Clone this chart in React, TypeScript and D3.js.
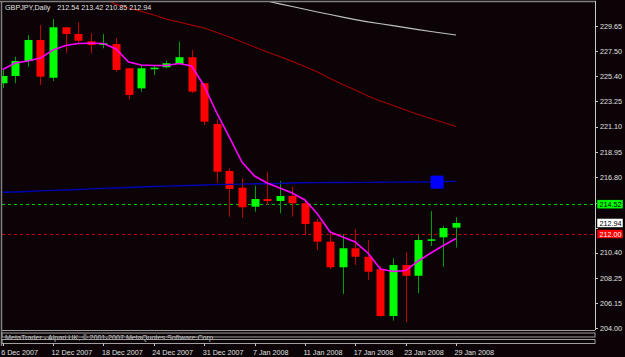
import React from "react";
import * as d3 from "d3";

const dates = [
  "2007-12-06","2007-12-07","2007-12-10","2007-12-11","2007-12-12","2007-12-13","2007-12-14",
  "2007-12-17","2007-12-18","2007-12-19","2007-12-20","2007-12-21","2007-12-24","2007-12-26",
  "2007-12-27","2007-12-28","2007-12-31","2008-01-02","2008-01-03","2008-01-04","2008-01-07",
  "2008-01-08","2008-01-09","2008-01-10","2008-01-11","2008-01-14","2008-01-15","2008-01-16",
  "2008-01-17","2008-01-18","2008-01-21","2008-01-22","2008-01-23","2008-01-24","2008-01-25",
  "2008-01-28","2008-01-29"
];
const opens = [224.79,225.41,226.68,228.46,225.26,229.54,228.97,228.35,228.04,228.12,226.06,224.36,226.00,226.15,226.43,227.00,224.79,221.33,217.35,215.93,214.32,214.97,214.80,215.23,214.61,213.04,211.35,209.18,210.79,210.07,209.01,205.04,209.37,208.46,211.43,211.72,212.54];
const highs = [225.92,227.05,228.89,229.73,230.24,229.54,229.96,229.03,228.97,228.61,226.06,226.34,226.34,226.71,228.32,227.61,224.79,221.73,217.58,216.73,216.10,217.29,216.50,216.01,214.89,213.27,212.06,211.98,212.40,211.49,209.29,209.94,210.45,211.92,213.95,212.68,213.42];
const lows = [224.39,224.79,226.20,224.64,224.98,227.33,228.18,227.33,227.76,225.77,223.43,224.08,225.49,226.06,226.43,223.95,221.25,216.35,213.47,213.38,213.89,214.46,213.76,213.47,211.92,210.64,209.01,206.91,209.37,208.10,204.98,204.65,204.51,206.97,210.98,209.23,210.85];
const closes = [225.41,226.68,228.46,225.35,229.54,228.97,228.40,228.04,228.18,225.92,223.80,226.06,226.11,226.49,227.00,224.08,221.53,217.29,215.82,214.27,214.97,214.80,215.23,214.61,212.85,211.35,209.18,210.79,210.07,208.80,205.04,209.37,208.46,211.49,211.55,212.51,212.94];

// magenta fast MA
const maFast = [225.96,226.51,226.68,226.93,227.61,227.99,228.17,228.18,228.17,227.70,226.60,226.34,226.30,226.30,226.47,226.26,224.56,222.27,220.23,218.11,216.92,216.33,215.90,215.48,214.89,213.70,212.17,211.75,211.32,210.39,209.03,208.82,208.90,209.71,210.39,211.03,211.62];
// dark red MA
const maRed: (number | null)[] = [null,null,null,null,null,null,null,232.37,232.03,231.48,231.18,230.89,230.58,230.24,229.99,229.73,229.48,229.10,228.72,228.29,227.87,227.44,227.06,226.65,226.21,225.75,225.19,224.68,224.22,223.71,223.29,222.90,222.52,222.14,221.80,221.46,221.12];
// silver long MA
const maSilver: (number | null)[] = [null,null,null,null,null,null,null,null,null,null,null,null,null,null,null,null,null,null,null,null,232.03,231.77,231.53,231.30,231.07,230.84,230.62,230.40,230.19,230.00,229.84,229.68,229.51,229.34,229.18,229.03,228.89];
// blue MA
const maBlue = [215.54,215.57,215.61,215.66,215.70,215.74,215.78,215.83,215.87,215.91,215.95,215.99,216.03,216.06,216.09,216.12,216.16,216.19,216.21,216.23,216.26,216.27,216.29,216.33,216.35,216.36,216.37,216.37,216.38,216.38,216.39,216.40,216.41,216.41,216.42,216.45,216.47];

const priceTicks = [229.65,227.50,225.40,223.25,221.10,218.95,216.80,214.65,212.55,210.40,208.25,206.15,204.00];
const hiddenTickLabels = [214.65, 212.55];
const tickEvery = 4;
const askLevel = 214.52;
const bidLevel = 212.00;
const lastPrice = 212.94;
const markerBar = 34.5;
const markerPrice = 216.4;
const title = "GBPJPY,Daily";
const titleValues = "212.54 213.42 210.85 212.94";
const copyright = "MetaTrader - Alpari UK, \u00a9 2001-2007 MetaQuotes Software Corp.";

const W = 625, H = 357;
const L = 2, R = 595, T = 2, B = 330;
const FONT = "'Liberation Sans', Arial, sans-serif";
const BG = "#0b0306";

export default function App() {
  const parse = d3.timeParse("%Y-%m-%d");
  const fmt = d3.timeFormat("%-d %b %Y");
  const x = d3.scaleLinear().domain([0, dates.length - 1]).range([2.7, 456]);
  const y = d3.scaleLinear().domain([204, 229.65]).range([328.3, 26]);

  const lineGen = d3.line<number | null>()
    .defined((d) => d !== null)
    .x((_, i) => x(i))
    .y((d) => y(d as number));

  const ticksX = dates.map((d, i) => ({ i, d })).filter((o) => o.i % tickEvery === 0);
  const bodyW = 8;

  return (
    <svg width={W} height={H} style={{ position: "fixed", left: 0, top: 0 }}>
      <rect x={0} y={0} width={W} height={H} fill={BG} />
      <defs>
        <clipPath id="plot">
          <rect x={L} y={T} width={R - L} height={B - T} />
        </clipPath>
      </defs>
      <g clipPath="url(#plot)">
        <line x1={L} x2={R} y1={Math.round(y(askLevel)) + 0.5} y2={Math.round(y(askLevel)) + 0.5} stroke="#00c800" strokeDasharray="3,3" />
        <line x1={L} x2={R} y1={Math.round(y(bidLevel)) + 0.5} y2={Math.round(y(bidLevel)) + 0.5} stroke="#c80000" strokeDasharray="3,3" />
        {dates.map((_, i) => {
          const up = closes[i] >= opens[i];
          const cx = Math.round(x(i)) + 0.5;
          const top = y(Math.max(opens[i], closes[i]));
          const bot = y(Math.min(opens[i], closes[i]));
          return (
            <g key={i}>
              <line x1={cx} x2={cx} y1={y(highs[i])} y2={y(lows[i])} stroke={up ? "#00a000" : "#c00000"} strokeWidth={1} />
              <rect x={cx - bodyW / 2} y={top} width={bodyW} height={Math.max(1.5, bot - top)} fill={up ? "#00ff00" : "#ff0000"} />
            </g>
          );
        })}
        <path d={lineGen(maBlue) || ""} fill="none" stroke="#0000b4" strokeWidth={1.4} />
        <path d={lineGen(maRed) || ""} fill="none" stroke="#a00000" strokeWidth={1.2} />
        <path d={lineGen(maSilver) || ""} fill="none" stroke="#c0c0c0" strokeWidth={1.1} />
        <path d={lineGen(maFast) || ""} fill="none" stroke="#ff00ff" strokeWidth={1.6} />
        <rect x={x(markerBar) - 6.5} y={y(markerPrice) - 6.5} width={13} height={13} fill="#0000ff" />
      </g>

      {/* frame */}
      <line x1={0} x2={R + 1} y1={1.5} y2={1.5} stroke="#808080" strokeWidth={1.5} />
      <line x1={1.5} x2={1.5} y1={1} y2={346} stroke="#808080" strokeWidth={1.5} />
      <line x1={R + 0.5} x2={R + 0.5} y1={1} y2={B} stroke="#c8c8c8" />

      {/* title */}
      <text x={5} y={10} fill="#e0e0e0" fontFamily={FONT} fontSize={7.2}>{title}</text>
      <text x={57.3} y={10} fill="#e0e0e0" fontFamily={FONT} fontSize={7.2}>{titleValues}</text>

      {/* price axis */}
      {priceTicks.map((p) => (
        <g key={p}>
          <line x1={R} x2={R + 3} y1={Math.round(y(p)) + 0.5} y2={Math.round(y(p)) + 0.5} stroke="#c8c8c8" />
          {hiddenTickLabels.includes(p) ? null : (
            <text x={600} y={y(p) + 2.6} fill="#e0e0e0" fontFamily={FONT} fontSize={7.2}>{p.toFixed(2)}</text>
          )}
        </g>
      ))}
      {[
        { v: askLevel, fill: "#00ff00", color: "#000" },
        { v: lastPrice, fill: "#ffffff", color: "#000" },
        { v: bidLevel, fill: "#ff0000", color: "#fff" },
      ].map((b) => (
        <g key={b.v}>
          <rect x={597} y={y(b.v) - 4.5} width={26} height={9} fill={b.fill} stroke="#000" strokeWidth={0.5} />
          <text x={599.5} y={y(b.v) + 2.6} fill={b.color} fontFamily={FONT} fontSize={7.2}>{b.v.toFixed(2)}</text>
        </g>
      ))}

      {/* bottom sub-window strips */}
      <text x={5} y={340} fill="#d0d0d0" fontFamily={FONT} fontSize={7.2}>{copyright}</text>
      <line x1={L} x2={R} y1={330.5} y2={330.5} stroke="#a0a0a0" />
      <rect x={L} y={333} width={R - L} height={4} fill="none" stroke="#a0a0a0" />
      <rect x={L} y={339.5} width={R - L} height={4} fill="none" stroke="#a0a0a0" />

      {/* time axis */}
      {ticksX.map((t) => (
        <g key={t.i}>
          <line x1={Math.round(x(t.i)) + 0.5} x2={Math.round(x(t.i)) + 0.5} y1={343.5} y2={346} stroke="#c8c8c8" />
          <text x={x(t.i) - 1.5} y={354.5} fill="#e0e0e0" fontFamily={FONT} fontSize={7.2}>{fmt(parse(t.d) as Date)}</text>
        </g>
      ))}
    </svg>
  );
}
